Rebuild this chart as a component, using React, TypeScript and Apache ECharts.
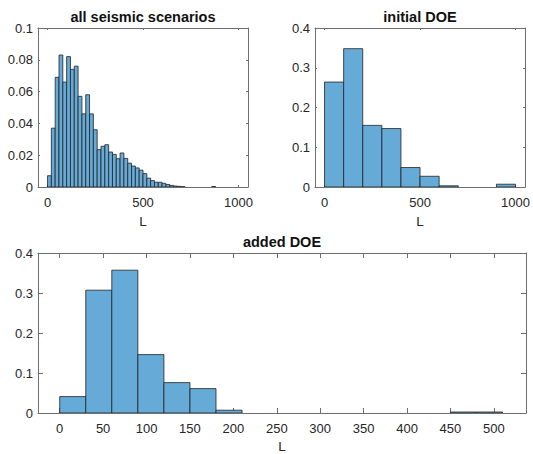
import React, { useEffect, useRef } from "react";
import * as echarts from "echarts";

// ---------- data ----------
const allTitle = "all seismic scenarios";
const allBinWidth = 20;
const allProb = [
  0.0071, 0.037, 0.069, 0.083, 0.066, 0.082, 0.074, 0.076, 0.057, 0.046,
  0.058, 0.046, 0.036, 0.0235, 0.0256, 0.0266, 0.022, 0.0205, 0.0178, 0.0214,
  0.018, 0.015, 0.0132, 0.012, 0.0106, 0.0084, 0.0056, 0.004, 0.003, 0.003,
  0.0023, 0.0016, 0.001, 0.0006, 0.0004, 0.0002, 0, 0, 0, 0,
  0, 0, 0, 0.0003,
];
const allXTicks = [0, 500, 1000];
const allYMax = 0.1;
const allYStep = 0.02;

const initTitle = "initial DOE";
const initBinWidth = 100;
const initProb = [0.264, 0.348, 0.155, 0.147, 0.049, 0.027, 0.003, 0, 0, 0.007];
const initXTicks = [0, 500, 1000];
const initYMax = 0.4;
const initYStep = 0.1;

const addTitle = "added DOE";
const addBinWidth = 30;
const addProb = [
  0.041, 0.307, 0.357, 0.146, 0.076, 0.061, 0.007, 0, 0, 0, 0, 0, 0, 0, 0,
  0.0025, 0.0025,
];
const addXTicks = [0, 50, 100, 150, 200, 250, 300, 350, 400, 450, 500];
const addYMax = 0.4;
const addYStep = 0.1;

const xLabel = "L";

// ---------- styles ----------
const FONT = "'Liberation Sans', Arial, Helvetica, sans-serif";
const FILL = "#66AAD7";
const EDGE = "#222";
const AXIS = "#6e6e6e";
const TEXT = "#262626";

const toBins = (vals: number[], w: number) =>
  vals.map((h, i) => [i * w, (i + 1) * w, h]);

export default function App() {
  const ref = useRef<HTMLDivElement>(null);

  useEffect(() => {
    document.body.style.margin = "0";
    if (!ref.current) return;
    const chart = echarts.init(ref.current, null, { renderer: "svg" });

    const grids = [
      { left: 38, top: 28, width: 210, height: 159 },
      { left: 315, top: 28, width: 211, height: 159 },
      { left: 38, top: 253, width: 488, height: 160 },
    ];
    const xr = [
      { min: -50, max: 1050, ticks: allXTicks, tl: 2 },
      { min: -50, max: 1050, ticks: initXTicks, tl: 2 },
      { min: -25, max: 537, ticks: addXTicks, tl: 5 },
    ];
    const yr = [
      { max: allYMax, step: allYStep },
      { max: initYMax, step: initYStep },
      { max: addYMax, step: addYStep },
    ];
    const nameGaps = [27, 27, 26];
    const plain = (v: number) => String(+v.toFixed(6));

    const xAxis: any[] = [];
    const yAxis: any[] = [];
    for (let g = 0; g < 3; g++) {
      const base = {
        type: "value",
        gridIndex: g,
        min: xr[g].min,
        max: xr[g].max,
        splitLine: { show: false },
        axisLine: { show: true, onZero: false, lineStyle: { color: AXIS, width: 1 } },
        axisTick: {
          show: true,
          inside: true,
          length: xr[g].tl,
          customValues: xr[g].ticks,
          lineStyle: { color: AXIS, width: 1 },
        },
      };
      xAxis.push({
        ...base,
        position: "bottom",
        name: xLabel,
        nameLocation: "middle",
        nameGap: nameGaps[g],
        nameTextStyle: { fontFamily: FONT, fontSize: 13.5, color: TEXT },
        axisLabel: {
          customValues: xr[g].ticks,
          formatter: plain,
          margin: 9,
          fontFamily: FONT,
          fontSize: 13,
          color: TEXT,
        },
      });
      xAxis.push({ ...base, position: "top", axisLabel: { show: false } });

      const ybase = {
        type: "value",
        gridIndex: g,
        min: 0,
        max: yr[g].max,
        interval: yr[g].step,
        splitLine: { show: false },
        axisLine: { show: true, onZero: false, lineStyle: { color: AXIS, width: 1 } },
        axisTick: {
          show: true,
          inside: true,
          length: xr[g].tl,
          lineStyle: { color: AXIS, width: 1 },
        },
      };
      yAxis.push({
        ...ybase,
        position: "left",
        axisLabel: { margin: 5, formatter: plain, fontFamily: FONT, fontSize: 13, color: TEXT },
      });
      yAxis.push({ ...ybase, position: "right", axisLabel: { show: false } });
    }

    const renderItem = (params: any, api: any) => {
      const h = api.value(2);
      if (!h) return null;
      const p0 = api.coord([api.value(0), h]);
      const p1 = api.coord([api.value(1), 0]);
      return {
        type: "rect",
        shape: { x: p0[0], y: p0[1], width: p1[0] - p0[0], height: p1[1] - p0[1] },
        style: { fill: FILL, stroke: EDGE, lineWidth: 0.8 },
      };
    };

    const datasets = [
      toBins(allProb, allBinWidth),
      toBins(initProb, initBinWidth),
      toBins(addProb, addBinWidth),
    ];

    const series = datasets.map((d, g) => ({
      type: "custom",
      xAxisIndex: g * 2,
      yAxisIndex: g * 2,
      renderItem,
      encode: { x: [0, 1], y: 2 },
      data: d,
      clip: true,
    }));

    const titleStyle = { fontFamily: FONT, fontSize: 14.5, fontWeight: "bold", color: "#111" };
    const title = [
      { text: allTitle, left: 143, top: 9, textAlign: "center", textStyle: titleStyle },
      { text: initTitle, left: 420, top: 9, textAlign: "center", textStyle: titleStyle },
      { text: addTitle, left: 282, top: 234, textAlign: "center", textStyle: titleStyle },
    ].map((t) => ({ ...t, padding: 0 }));

    chart.setOption({
      animation: false,
      backgroundColor: "#fff",
      title,
      grid: grids,
      xAxis,
      yAxis,
      series,
    });

    return () => chart.dispose();
  }, []);

  return <div ref={ref} style={{ width: 533, height: 454 }} />;
}
